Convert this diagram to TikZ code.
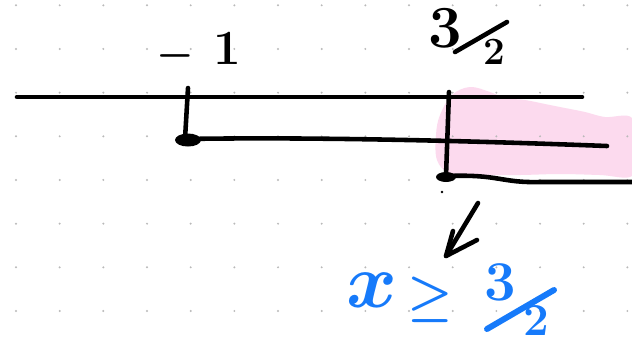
\RequirePackage{fix-cm}
\documentclass[tikz,border=0pt]{standalone}
\definecolor{penblue}{RGB}{22,122,250}
\definecolor{hlpink}{RGB}{252,218,238}
\definecolor{griddot}{RGB}{185,185,185}
\tikzset{
  ink/.style={line width=2.6pt, line cap=round, line join=round, black},
  blueink/.style={line width=3.4pt, line cap=round, penblue},
  lbl/.style={inner sep=0pt},
  bluelbl/.style={inner sep=0pt, text=penblue},
}
\begin{document}
\begin{tikzpicture}[x=0.02cm, y=-0.02cm]
\useasboundingbox (0,0) rectangle (632,343);
\fill[white] (0,0) rectangle (632,343);
% pink highlight
\fill[hlpink] plot[smooth cycle, tension=0.6] coordinates {
  (440,115) (452,95) (470,87) (490,92) (505,98) (525,100) (545,104)
  (565,108) (585,112) (605,117) (632,118) (632,150) (632,176)
  (600,175) (560,174) (520,175) (480,175) (450,173) (437,160) (436,135)};
% grid dots
\foreach \i in {0,...,14}
  \foreach \j in {0,...,7}
    \fill[griddot] ({16+43.67*\i},{5.3+43.67*\j}) circle (1.1);
% coordinates
\coordinate (L0) at (17,97);
\coordinate (L1) at (582,97);
\coordinate (A0) at (188,88);
\coordinate (A1) at (185,139);
\coordinate (A2) at (607,146);
\coordinate (B0) at (449,92);
\coordinate (B1) at (446,176);
\coordinate (B2) at (632,182);
% number line
\draw[ink] (L0) -- (L1);
% -1 branch
\draw[ink] (A0) -- (A1);
\fill (188,140) ellipse (13 and 6.5);
\draw[ink] (A1) .. controls (300,137) and (450,140) .. (A2);
% 3/2 branch
\draw[ink] (B0) -- (B1);
\fill (446,177) ellipse (10 and 5);
\draw[ink] (B1) .. controls (500,174) and (500,183) .. (540,182) -- (B2);
\fill (442,192) circle (1.3);
% labels
\node[lbl, font=\fontsize{24}{28}\selectfont\boldmath] (mn) at (175,56) {$-$};
\node[lbl, font=\fontsize{28}{32}\selectfont\bfseries] (one) at (227,48) {1};
\node[lbl, font=\fontsize{34}{38}\selectfont\bfseries] (t3) at (445,28) {3};
\node[lbl, font=\fontsize{22}{26}\selectfont\bfseries] (t2) at (494,52) {2};
\coordinate (s0) at (455,52);
\coordinate (s1) at (507,22);
\draw[ink] (s0) -- (s1);
% arrow
\coordinate (R0) at (478,203);
\coordinate (R1) at (446,256);
\draw[ink] (R0) -- (R1);
\draw[ink] (453,231) -- (R1) -- (477,240);
% blue result
\node[bluelbl, font=\fontsize{44}{48}\selectfont\boldmath] (rx) at (372,290) {$x$};
\node[bluelbl, font=\fontsize{29}{32}\selectfont\boldmath] (rge) at (430,300) {$\geq$};
\node[bluelbl, font=\fontsize{32}{36}\selectfont\bfseries] (r3) at (500,282) {3};
\node[bluelbl, font=\fontsize{26}{30}\selectfont\bfseries] (r2) at (536,321) {2};
\coordinate (u0) at (487,329);
\coordinate (u1) at (554,290);
\draw[blueink] (u0) -- (u1);
\end{tikzpicture}
\end{document}
